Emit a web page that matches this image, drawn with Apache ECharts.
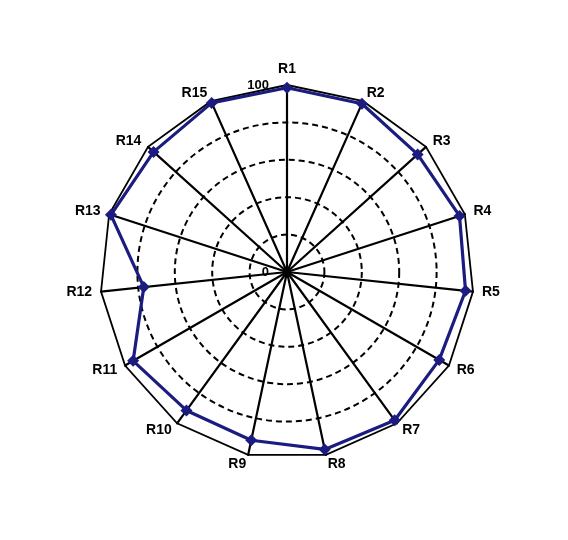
<!DOCTYPE html>
<html>
<head>
<meta charset="utf-8">
<script src="https://cdn.jsdelivr.net/npm/echarts@6/dist/echarts.min.js"></script>
<style>
html,body{margin:0;padding:0;background:#fff;}
#chart{width:568px;height:540px;}
</style>
</head>
<body>
<div id="chart"></div>
<script>
var categories = ['R1','R2','R3','R4','R5','R6','R7','R8','R9','R10','R11','R12','R13','R14','R15'];
var values = [98.5, 98.5, 94, 97, 96, 94, 98, 97, 92, 91.5, 95, 77, 99, 96, 99];
var axisMax = 100;
var tickLabels = ['0', '100'];

// ECharts lays radar axes counter-clockwise; reverse (keeping R1 first) so they run clockwise
var order = [0].concat(categories.map(function (c, i) { return i; }).slice(1).reverse());
var cwCategories = order.map(function (i) { return categories[i]; });
var cwValues = order.map(function (i) { return values[i]; });

var chart = echarts.init(document.getElementById('chart'));
var font = 'Liberation Sans, Arial, sans-serif';

var outerIndicators = cwCategories.map(function (c, i) {
  var ind = { name: c, max: axisMax, min: 0 };
  if (i === 0) {
    ind.axisLabel = {
      show: true,
      color: '#000',
      fontSize: 13,
      fontWeight: 'bold',
      fontFamily: font,
      margin: 18,
      formatter: function (v) {
        if (v === 0) return tickLabels[0];
        if (v === axisMax) return tickLabels[1];
        return '';
      }
    };
  }
  return ind;
});
var innerIndicators = cwCategories.map(function (c) {
  return { name: c, max: axisMax, min: 0 };
});

chart.setOption({
  backgroundColor: '#fff',
  animation: false,
  radar: [
    {
      center: [287, 272],
      radius: 187,
      startAngle: 90,
      shape: 'polygon',
      splitNumber: 1,
      indicator: outerIndicators,
      axisName: {
        color: '#000',
        fontSize: 14,
        fontWeight: 'bold',
        fontFamily: font
      },
      nameGap: 9,
      axisLine: { lineStyle: { color: '#000', width: 2.2 } },
      axisTick: { show: false },
      axisLabel: { show: false },
      splitLine: { lineStyle: { color: '#000', width: 1.8 } },
      splitArea: { show: false }
    },
    {
      center: [287, 272],
      radius: 149.6,
      startAngle: 90,
      shape: 'circle',
      splitNumber: 4,
      indicator: innerIndicators,
      axisName: { show: false },
      axisLine: { show: false },
      axisTick: { show: false },
      axisLabel: { show: false },
      splitLine: { lineStyle: { color: '#000', width: 2, type: [6, 4] } },
      splitArea: { show: false }
    }
  ],
  series: [
    {
      type: 'radar',
      radarIndex: 0,
      symbol: 'diamond',
      symbolSize: 12,
      itemStyle: { color: '#1c1c80' },
      lineStyle: { color: '#1c1c80', width: 3.2 },
      data: [{ value: cwValues, name: 'data' }]
    }
  ]
});
</script>
</body>
</html>
